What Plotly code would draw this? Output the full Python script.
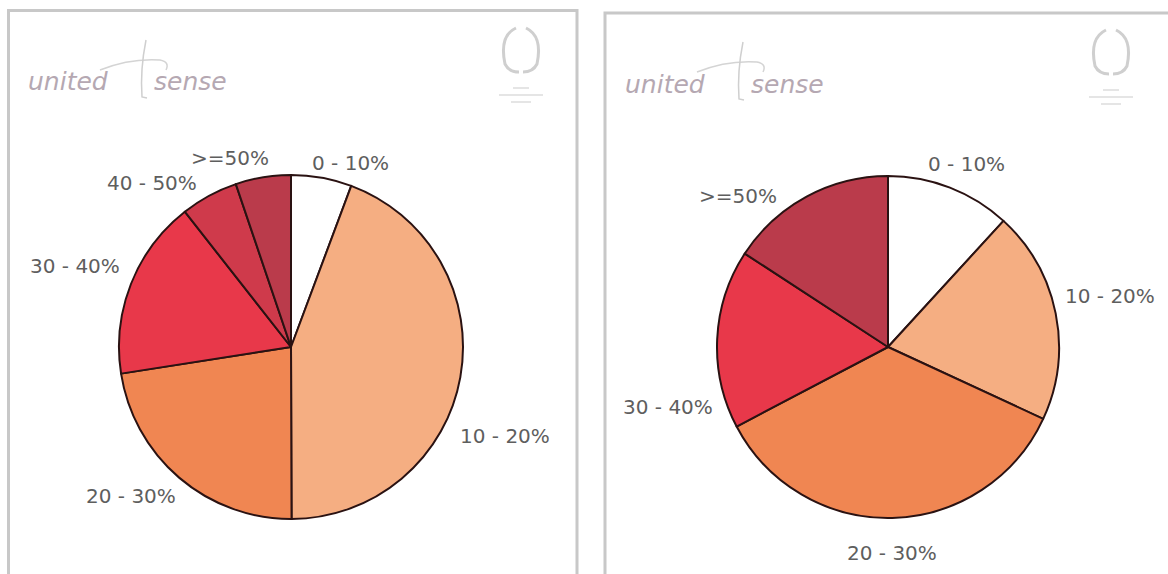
import plotly.graph_objects as go

W, H = 1168, 574

# ---- data ----
left_labels = ["0 - 10%", "10 - 20%", "20 - 30%", "30 - 40%", "40 - 50%", ">=50%"]
left_values = [5.7, 44.3, 22.6, 16.9, 5.4, 5.2]

right_labels = ["0 - 10%", "10 - 20%", "20 - 30%", "30 - 40%", ">=50%"]
right_values = [11.8, 20.1, 35.4, 16.9, 15.8]

# ---- styles ----
color_map = {
    "0 - 10%": "#FFFFFF",
    "10 - 20%": "#F5AE82",
    "20 - 30%": "#F08652",
    "30 - 40%": "#E8384A",
    "40 - 50%": "#CF3A4B",
    ">=50%": "#BA3B4B",
}
edge = "#2a1212"


def px(x):
    return x / W


def py(y):
    return 1 - y / H


def dom(cx, cy, r):
    return dict(x=[px(cx - r), px(cx + r)], y=[py(cy + r), py(cy - r)])


fig = go.Figure()
fig.add_trace(go.Pie(
    labels=left_labels, values=left_values, sort=False, direction="clockwise",
    rotation=0, textinfo="none", hoverinfo="label+percent", showlegend=False,
    marker=dict(colors=[color_map[l] for l in left_labels], line=dict(color=edge, width=2)),
    domain=dom(291, 347, 172),
))
fig.add_trace(go.Pie(
    labels=right_labels, values=right_values, sort=False, direction="clockwise",
    rotation=0, textinfo="none", hoverinfo="label+percent", showlegend=False,
    marker=dict(colors=[color_map[l] for l in right_labels], line=dict(color=edge, width=2)),
    domain=dom(888, 347, 171),
))

# label placement (pixel centres)
left_label_pos = {
    "0 - 10%": (350, 163), "10 - 20%": (505, 436), "20 - 30%": (131, 496),
    "30 - 40%": (75, 266), "40 - 50%": (152, 183), ">=50%": (230, 158),
}
right_label_pos = {
    "0 - 10%": (966, 164), "10 - 20%": (1110, 296), "20 - 30%": (892, 553),
    "30 - 40%": (668, 407), ">=50%": (738, 196),
}
annotations = []
lab_font = dict(family="DejaVu Sans, Verdana, sans-serif", size=20, color="#5e5e5e")
for lab in left_labels:
    x, y = left_label_pos[lab]
    annotations.append(dict(x=px(x), y=py(y), xref="paper", yref="paper", text=lab,
                            showarrow=False, font=lab_font, xanchor="center", yanchor="middle"))
for lab in right_labels:
    x, y = right_label_pos[lab]
    annotations.append(dict(x=px(x), y=py(y), xref="paper", yref="paper", text=lab,
                            showarrow=False, font=lab_font, xanchor="center", yanchor="middle"))

shapes = []
border = dict(color="#c8c8c8", width=3)
# panel frames
shapes.append(dict(type="rect", xref="paper", yref="paper", x0=px(8.5), x1=px(577), y0=py(600), y1=py(10.5),
                   line=border, fillcolor="rgba(0,0,0,0)", layer="below"))
shapes.append(dict(type="rect", xref="paper", yref="paper", x0=px(605), x1=px(1200), y0=py(600), y1=py(13),
                   line=border, fillcolor="rgba(0,0,0,0)", layer="below"))

logo_font = dict(family="DejaVu Sans, sans-serif", size=25, color="#b5a8b2")
for ox, oy in [(0, 0), (597, 2)]:
    annotations.append(dict(x=px(26 + ox), y=py(82 + oy), xref="paper", yref="paper", text="<i>united</i>",
                            showarrow=False, font=logo_font, xanchor="left", yanchor="middle"))
    annotations.append(dict(x=px(152 + ox), y=py(82 + oy), xref="paper", yref="paper", text="<i>sense</i>",
                            showarrow=False, font=logo_font, xanchor="left", yanchor="middle"))

    def P(x, y):
        return f"{px(x + ox)},{py(y + oy)}"
    # decorative swoosh of the logo
    shapes.append(dict(type="path", xref="paper", yref="paper",
                       path=f"M{P(100,70)} Q{P(130,58)} {P(160,60)} Q{P(170,62)} {P(166,70)}",
                       line=dict(color="#d4d4d4", width=1.5)))
    shapes.append(dict(type="path", xref="paper", yref="paper",
                       path=f"M{P(146,40)} Q{P(140,70)} {P(142,97)} L{P(147,98)}",
                       line=dict(color="#cfcfcf", width=1.5)))
    # laurel emblem
    lx = 521 + (590 if ox else 0)
    ly = 50 + oy
    shapes.append(dict(type="path", xref="paper", yref="paper",
                       path=f"M{px(lx-5)},{py(ly-22)} Q{px(lx-22)},{py(ly-14)} {px(lx-16)},{py(ly+14)} Q{px(lx-12)},{py(ly+22)} {px(lx-2)},{py(ly+22)}",
                       line=dict(color="#cfcfcf", width=3)))
    shapes.append(dict(type="path", xref="paper", yref="paper",
                       path=f"M{px(lx+5)},{py(ly-22)} Q{px(lx+22)},{py(ly-14)} {px(lx+16)},{py(ly+14)} Q{px(lx+12)},{py(ly+22)} {px(lx+2)},{py(ly+22)}",
                       line=dict(color="#cfcfcf", width=3)))
    for dy, half in [(38, 8), (45, 22), (52, 10)]:
        shapes.append(dict(type="line", xref="paper", yref="paper",
                           x0=px(lx - half), x1=px(lx + half), y0=py(ly + dy), y1=py(ly + dy),
                           line=dict(color="#dcdcdc", width=1.5)))

fig.update_layout(
    width=W, height=H, margin=dict(l=0, r=0, t=0, b=0),
    paper_bgcolor="white", plot_bgcolor="white",
    annotations=annotations, shapes=shapes, showlegend=False,
)
fig.write_html("out.html")
